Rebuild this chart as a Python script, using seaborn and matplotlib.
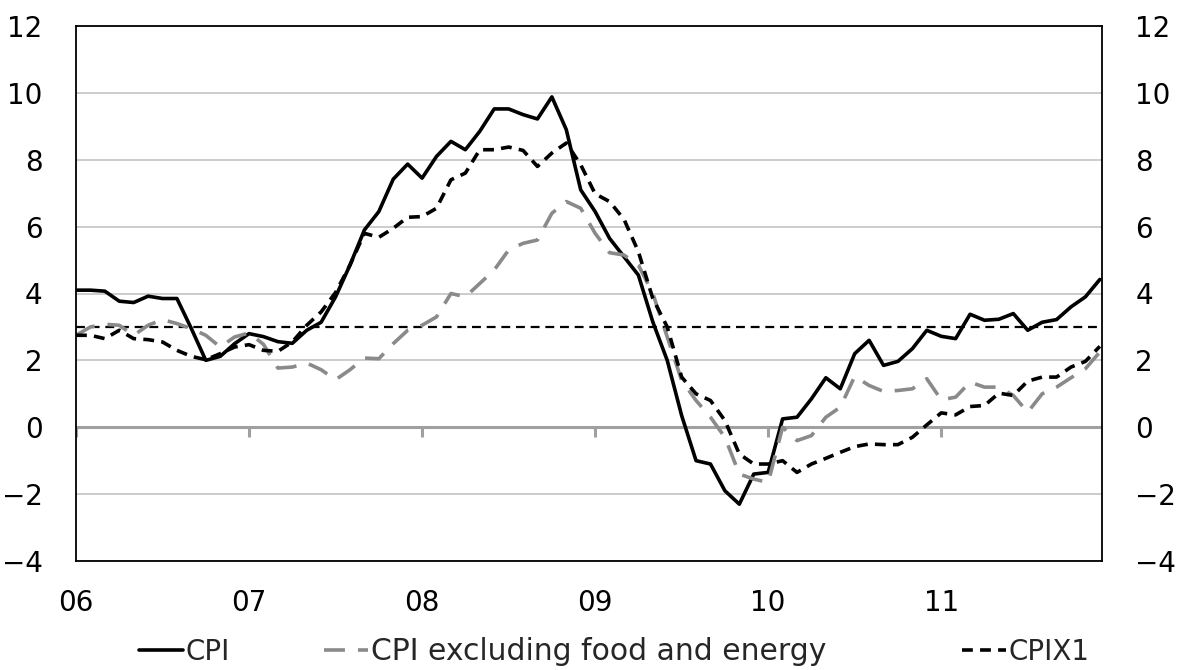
import numpy as np
import pandas as pd
import matplotlib
matplotlib.use("Agg")
import matplotlib.pyplot as plt
import seaborn as sns

# ---------------- DATA (monthly, Jan 2006 - Dec 2011, % y/y) ----------------

year_labels = ["06", "07", "08", "09", "10", "11"]

cpi = [4.1, 4.1, 4.07, 3.77, 3.73, 3.92, 3.85, 3.85, 2.95, 2.0, 2.12, 2.5,
       2.8, 2.71, 2.56, 2.51, 2.9, 3.14, 3.9, 4.85, 5.9, 6.45, 7.42, 7.87,
       7.45, 8.1, 8.55, 8.3, 8.85, 9.52, 9.52, 9.35, 9.22, 9.88, 8.9, 7.1,
       6.45, 5.65, 5.1, 4.55, 3.15, 2.0, 0.35, -1.0, -1.1, -1.9, -2.3, -1.4,
       -1.35, 0.25, 0.3, 0.85, 1.48, 1.15, 2.2, 2.6, 1.85, 1.97, 2.35, 2.9,
       2.72, 2.65, 3.38, 3.2, 3.23, 3.4, 2.9, 3.14, 3.22, 3.6, 3.9, 4.42]

cpi_core = [2.75, 3.0, 3.08, 3.05, 2.75, 3.05, 3.22, 3.1, 2.95, 2.75, 2.4, 2.7,
            2.82, 2.48, 1.77, 1.8, 1.92, 1.72, 1.42, 1.72, 2.07, 2.05, 2.5, 2.9,
            3.05, 3.3, 4.0, 3.9, 4.3, 4.7, 5.3, 5.5, 5.6, 6.4, 6.75, 6.55,
            5.8, 5.22, 5.15, 4.85, 4.0, 2.7, 1.4, 0.8, 0.3, -0.3, -1.4, -1.55,
            -1.65, 0.0, -0.4, -0.25, 0.3, 0.6, 1.52, 1.25, 1.07, 1.1, 1.15, 1.45,
            0.82, 0.9, 1.35, 1.2, 1.2, 0.95, 0.45, 1.0, 1.2, 1.48, 1.75, 2.25]

cpix1 = [2.75, 2.75, 2.65, 2.9, 2.65, 2.62, 2.55, 2.3, 2.12, 2.02, 2.2, 2.4,
         2.47, 2.3, 2.27, 2.55, 3.05, 3.45, 4.03, 4.85, 5.8, 5.68, 5.95, 6.28,
         6.3, 6.55, 7.4, 7.6, 8.3, 8.3, 8.38, 8.28, 7.8, 8.2, 8.5, 7.85,
         6.98, 6.75, 6.22, 5.25, 3.85, 3.0, 1.5, 1.0, 0.8, 0.2, -0.8, -1.1,
         -1.1, -1.0, -1.35, -1.1, -0.93, -0.75, -0.58, -0.5, -0.52, -0.52, -0.3, 0.07,
         0.43, 0.37, 0.62, 0.65, 1.02, 0.95, 1.38, 1.5, 1.5, 1.8, 1.97, 2.42]

target = 3

months = np.arange(len(cpi))
df = pd.DataFrame({"month": months, "cpi": cpi, "core": cpi_core, "cpix1": cpix1})

# ---------------- STYLE ----------------

sns.set_theme(style="white")
plt.rcParams["font.family"] = ["DejaVu Sans"]
plt.rcParams["axes.unicode_minus"] = True

fig = plt.figure(figsize=(11.83, 6.70), dpi=100)
ax = fig.add_axes([76 / 1183, 1 - 561 / 670, (1102 - 76) / 1183, (561 - 26) / 670])

# ---------------- LINES ----------------

sns.lineplot(data=df, x="month", y="cpi", ax=ax, color="black", lw=2.6,
             label="CPI", legend=False)
sns.lineplot(data=df, x="month", y="core", ax=ax, color="#8a8a8a", lw=2.6,
             linestyle=(0, (5.8, 3.6)), label="CPI excluding food and energy",
             legend=False)
sns.lineplot(data=df, x="month", y="cpix1", ax=ax, color="black", lw=2.6,
             linestyle=(0, (3.0, 2.0)), label="CPIX1", legend=False)

ax.axhline(target, color="black", lw=1.6, linestyle=(0, (4.0, 2.6)), zorder=1)
ax.axhline(0, color="#a0a0a0", lw=2.2, zorder=1)

# small year ticks on the zero line
year_starts = months[::12]
ax.vlines(year_starts, -0.3, 0, color="#a0a0a0", lw=2.2, zorder=1)

# ---------------- AXES ----------------

ax.set_xlim(0, 71.15)
ax.set_ylim(-4, 12)
ax.set_yticks(np.arange(-4, 13, 2))
ax.set_xticks(year_starts)
ax.set_xticklabels(year_labels)
ax.set_xlabel("")
ax.set_ylabel("")
ax.yaxis.grid(True, color="#c8c8c8", lw=1.3)
ax.xaxis.grid(False)
ax.set_axisbelow(True)

for s in ax.spines.values():
    s.set_color("black")
    s.set_linewidth(1.3)

ax.tick_params(axis="y", length=0, labelsize=20, pad=24, labelright=True,
               labelleft=True, colors="black")
ax.tick_params(axis="x", length=0, labelsize=20, pad=20, colors="black")

# ---------------- LEGEND (one entry each, spread along the bottom) ----------------

handles, labels = ax.get_legend_handles_labels()
legend_x = [133 / 1183, 318 / 1183, 956 / 1183]
legend_size = [20, 21.5, 20]
for h, lab, lx, fs in zip(handles, labels, legend_x, legend_size):
    leg = fig.legend([h], [lab], loc="center left", bbox_to_anchor=(lx, 0.027),
                     frameon=False, fontsize=fs, handlelength=1.6 * 20 / fs,
                     handletextpad=0.1, borderpad=0.2, borderaxespad=0)

fig.savefig("out.png", dpi=100)
